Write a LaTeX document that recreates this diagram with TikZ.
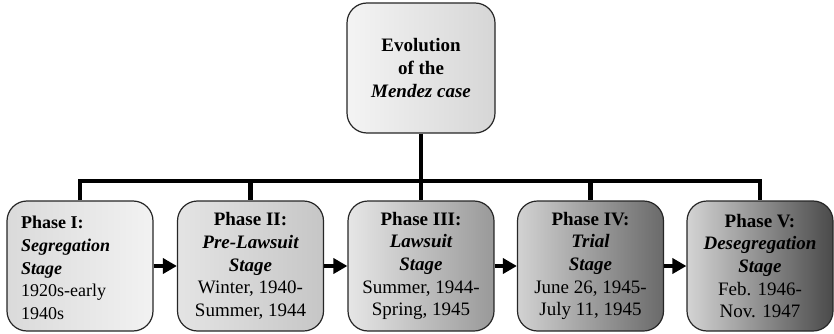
\documentclass[tikz,border=0pt]{standalone}
\usepackage{fontspec}
\setmainfont{Liberation Serif}[BoldFont={Liberation Serif Bold},ItalicFont={Liberation Serif Italic},BoldItalicFont={Liberation Serif Bold Italic}]
\usetikzlibrary{arrows.meta}
\definecolor{cA}{HTML}{DADADA}
\definecolor{cB}{HTML}{F2F2F2}
\definecolor{cC}{HTML}{E4E4E4}
\definecolor{cD}{HTML}{C6C6C6}
\definecolor{cE}{HTML}{E6E6E6}
\definecolor{cF}{HTML}{999999}
\definecolor{cG}{HTML}{D2D2D2}
\definecolor{cH}{HTML}{6A6A6A}
\definecolor{cI}{HTML}{D4D4D4}
\definecolor{cJ}{HTML}{4A4A4A}
\definecolor{cK}{HTML}{F4F4F4}
\definecolor{cL}{HTML}{D6D6D6}
\tikzset{
  phasebox/.style={draw=black!85, line width=1.2pt, rounded corners=20pt,
    minimum width=146pt, minimum height=130pt, inner sep=0pt,
    align=center, font=\rmfamily\fontsize{19}{22.7}\selectfont},
  connector/.style={line width=4.5pt, draw=black},
  flowarrow/.style={line width=4.5pt, draw=black, -{Triangle[length=14pt,width=15pt]}},
}
\newcommand{\ph}[1]{{\bfseries #1}}
\newcommand{\st}[1]{{\bfseries\itshape #1}}
\begin{document}
\begin{tikzpicture}[x=1pt,y=-1pt]
\useasboundingbox (0,0) rectangle (834,334);
\coordinate (bar) at (421,181);
\node[phasebox, minimum width=148pt, left color=cK, right color=cL] (top) at (421,68)
  {\ph{Evolution}\\ \ph{of the}\\ \st{Mendez case}};
\node[phasebox, left color=cA, right color=cB] (p1) at (80,266) {};
\node[phasebox, left color=cC, right color=cD] (p2) at (250.5,266)
  {\ph{Phase II:}\\ \st{Pre-Lawsuit}\\ \st{Stage}\\ Winter, 1940-\\ Summer, 1944};
\node[phasebox, left color=cE, right color=cF] (p3) at (421,266)
  {\ph{Phase III:}\\ \st{Lawsuit}\\ \st{Stage}\\ Summer, 1944-\\ Spring, 1945};
\node[phasebox, left color=cG, right color=cH] (p4) at (590.5,266)
  {\ph{Phase IV:}\\ \st{Trial}\\ \st{Stage}\\ June 26, 1945-\\ July 11, 1945};
\node[phasebox, left color=cI, right color=cJ] (p5) at (760,266)
  {\ph{Phase V:}\\ \st{Desegregation}\\ \st{Stage}\\ Feb. 1946-\\ Nov. 1947};
\node[anchor=west, align=left, inner sep=0pt, font=\rmfamily\fontsize{18}{22.7}\selectfont] (t1) at (21,268)
  {\ph{Phase I:}\\ \st{Segregation}\\ \st{Stage}\\ 1920s-early\\ 1940s};
\draw[connector] (top.south) -- (bar);
\draw[connector] (p1.north) -- (p1.north |- bar) -- (p5.north |- bar) -- (p5.north);
\draw[connector] (p2.north |- bar) -- (p2.north);
\draw[connector] (bar) -- (p3.north);
\draw[connector] (p4.north |- bar) -- (p4.north);
\draw[flowarrow] (p1.east) -- (p2.west);
\draw[flowarrow] (p2.east) -- (p3.west);
\draw[flowarrow] (p3.east) -- (p4.west);
\draw[flowarrow] (p4.east) -- (p5.west);
\end{tikzpicture}
\end{document}
